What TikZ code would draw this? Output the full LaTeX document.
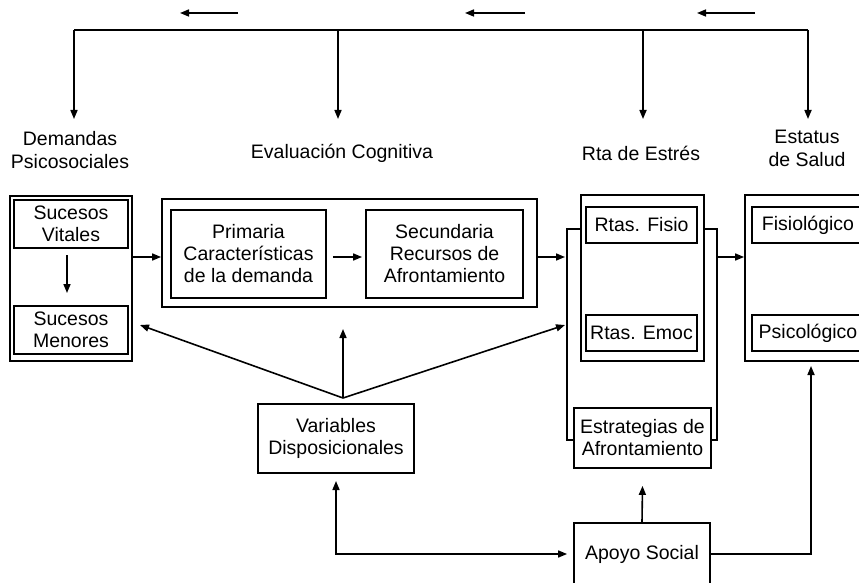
\documentclass[tikz,border=0pt]{standalone}
\usepackage{fontspec}
\setmainfont{Liberation Sans}
\usetikzlibrary{arrows.meta}
\tikzset{
  box/.style={draw=black, line width=1.8pt, rectangle, inner sep=0pt, align=center,
    font=\fontsize{19.5}{22}\selectfont},
  title/.style={align=center, inner sep=0pt, font=\fontsize{19.5}{23}\selectfont},
  conn/.style={line width=1.6pt, draw=black},
  arr/.style={conn, -{Triangle[length=9pt,width=7pt]}},
  darr/.style={conn, {Triangle[length=9pt,width=7pt]}-{Triangle[length=9pt,width=7pt]}}
}
\begin{document}
\begin{tikzpicture}[x=1pt,y=-1pt]
\useasboundingbox (0,0) rectangle (859,583);
\clip (0,0) rectangle (859,583);
\fill[white] (0,0) rectangle (859,583);

% titles
\node[title] (tD) at (70,150) {Demandas\\Psicosociales};
\node[title] (tE) at (342,153) {Evaluación Cognitiva};
\node[title] (tR) at (641,153) {Rta de Estrés};
\node[title] (tS) at (807,148) {Estatus\\de Salud};

% top feedback line
\coordinate (t1) at (74,30);
\coordinate (t2) at (338,30);
\coordinate (t3) at (643,30);
\coordinate (t4) at (808,30);
\coordinate (d1) at (74,119);
\coordinate (d2) at (338,119);
\coordinate (d3) at (643,119);
\coordinate (d4) at (808,119);
\draw[conn] (t1) -- (t4);
\draw[arr] (t1) -- (d1);
\draw[arr] (t2) -- (d2);
\draw[arr] (t3) -- (d3);
\draw[arr] (t4) -- (d4);

% small direction arrows
\coordinate (s1a) at (238,13); \coordinate (s1b) at (180,13);
\coordinate (s2a) at (525,13); \coordinate (s2b) at (465,13);
\coordinate (s3a) at (755,13); \coordinate (s3b) at (697,13);
\draw[arr] (s1a) -- (s1b);
\draw[arr] (s2a) -- (s2b);
\draw[arr] (s3a) -- (s3b);

% boxes
\node[box, minimum width=122, minimum height=165] (demO) at (71,278.5) {};
\node[box, minimum width=114, minimum height=48] (sv) at (71,224) {Sucesos\\Vitales};
\node[box, minimum width=114, minimum height=48] (sm) at (71,330) {Sucesos\\Menores};

\node[box, minimum width=375, minimum height=108] (evO) at (349.5,253) {};
\node[box, minimum width=155, minimum height=88] (pri) at (248.5,254) {Primaria\\Características\\de la demanda};
\node[box, minimum width=157, minimum height=88] (sec) at (444.5,254) {Secundaria\\Recursos de\\Afrontamiento};

\node[box, minimum width=123, minimum height=166] (rtaO) at (642.5,278) {};
\node[box, minimum width=111, minimum height=36] (rf) at (641.5,225) {Rtas. Fisio};
\node[box, minimum width=111, minimum height=36] (re) at (641.5,333) {Rtas. Emoc};
\node[box, minimum width=137, minimum height=60] (est) at (642.5,438) {Estrategias de\\Afrontamiento};

\node[box, minimum width=126, minimum height=166] (esO) at (808,278) {};
\node[box, minimum width=112, minimum height=36] (fis) at (808,225) {Fisiológico};
\node[box, minimum width=112, minimum height=36] (psi) at (808,333) {Psicológico};

\node[box, minimum width=156, minimum height=69] (var) at (336,438.5) {Variables\\Disposicionales};
\node[box, minimum width=136, minimum height=62] (apo) at (642,554) {Apoyo Social};

% horizontal flow
\coordinate (row) at (0,257);
\coordinate (L1) at (567,229);
\coordinate (L2) at (567,440);
\coordinate (R1) at (717,229);
\coordinate (R2) at (717,440);
\draw[arr] (demO.east |- row) -- (evO.west |- row);
\draw[arr] ([xshift=6pt]pri.east |- row) -- ([xshift=-3pt]sec.west |- row);
\draw[arr] (evO.east |- row) -- ([xshift=-2pt]L1 |- row);
\draw[arr] (R1 |- row) -- (esO.west |- row);

% vitales to menores
\coordinate (v1) at (67,255);
\coordinate (v2) at (67,293);
\draw[arr] (v1) -- (v2);

% side brackets around Rta
\draw[conn] (rtaO.west |- L1) -- (L1) -- (L2) -- (est.west |- L2);
\draw[conn] (rtaO.east |- R1) -- (R1) -- (R2) -- (est.east |- R2);

% dispositional variables
\coordinate (apex) at (343,398);
\coordinate (evTip) at (343,329);
\coordinate (smTip) at (140,325);
\coordinate (rTip) at (565,325);
\draw[arr] (apex) -- (evTip);
\draw[arr] (apex) -- (smTip);
\draw[arr] (apex) -- (rTip);

% social support
\coordinate (vb) at (336,481);
\coordinate (esTip) at (811,366);
\draw[darr] (vb) |- ([xshift=-6pt]apo.west);
\draw[arr] (apo.north) -- ([yshift=-17pt]est.south);
\draw[arr] (apo.east) -| (esTip);
\end{tikzpicture}
\end{document}
